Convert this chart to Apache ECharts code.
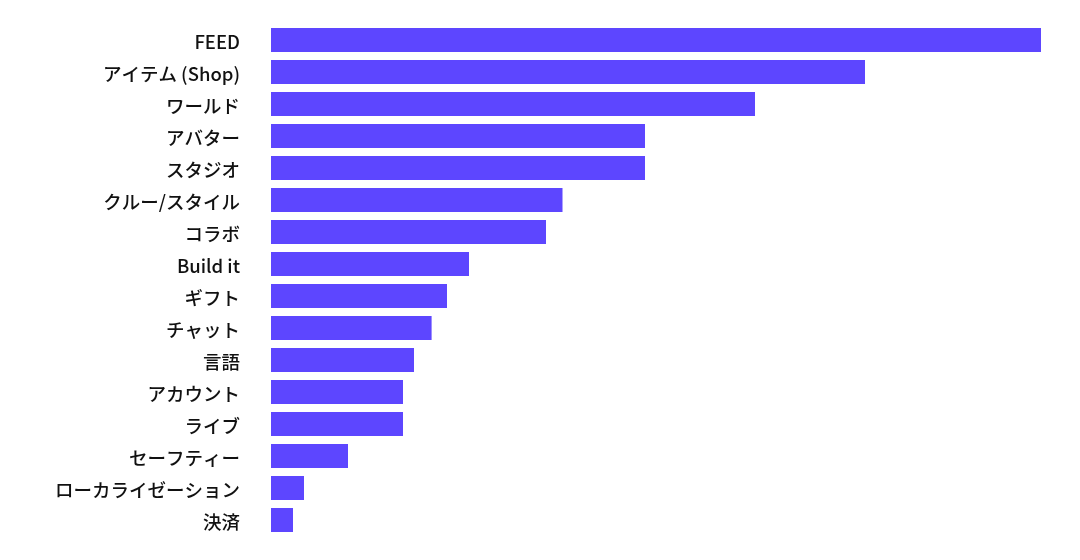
<!DOCTYPE html>
<html>
<head>
<meta charset="utf-8">
<script src="https://cdn.jsdelivr.net/npm/echarts@6/dist/echarts.min.js"></script>
<style>
html,body{margin:0;padding:0;background:#fff;}
#chart{width:1080px;height:560px;}
</style>
</head>
<body>
<div id="chart"></div>
<script>
const categories = ["FEED","アイテム (Shop)","ワールド","アバター","スタジオ","クルー/スタイル","コラボ","Build it","ギフト","チャット","言語","アカウント","ライブ","セーフティー","ローカライゼーション","決済"];
const values = [70,54,44,34,34,26.5,25,18,16,14.6,13,12,12,7,3,2];

const labelFont = '"Noto Sans CJK JP","Noto Sans",sans-serif';
const chart = echarts.init(document.getElementById('chart'));
chart.setOption({
  animation:false,
  grid:{left:271,right:39,top:24,bottom:24,containLabel:false},
  xAxis:{type:'value',min:0,max:70,show:false},
  yAxis:{
    type:'category',
    data:categories,
    inverse:true,
    axisLine:{show:false},
    axisTick:{show:false},
    axisLabel:{
      margin:31,
      formatter:function(v){return '{t|' + v + '}';},
      rich:{
        t:{
          fontSize:18.5,
          fontWeight:500,
          color:'#111111',
          fontFamily:labelFont,
          padding:[4,0,0,0]
        }
      }
    }
  },
  series:[{
    type:'bar',
    data:values,
    barWidth:24,
    itemStyle:{color:'#5d46ff'}
  }]
});
</script>
</body>
</html>
